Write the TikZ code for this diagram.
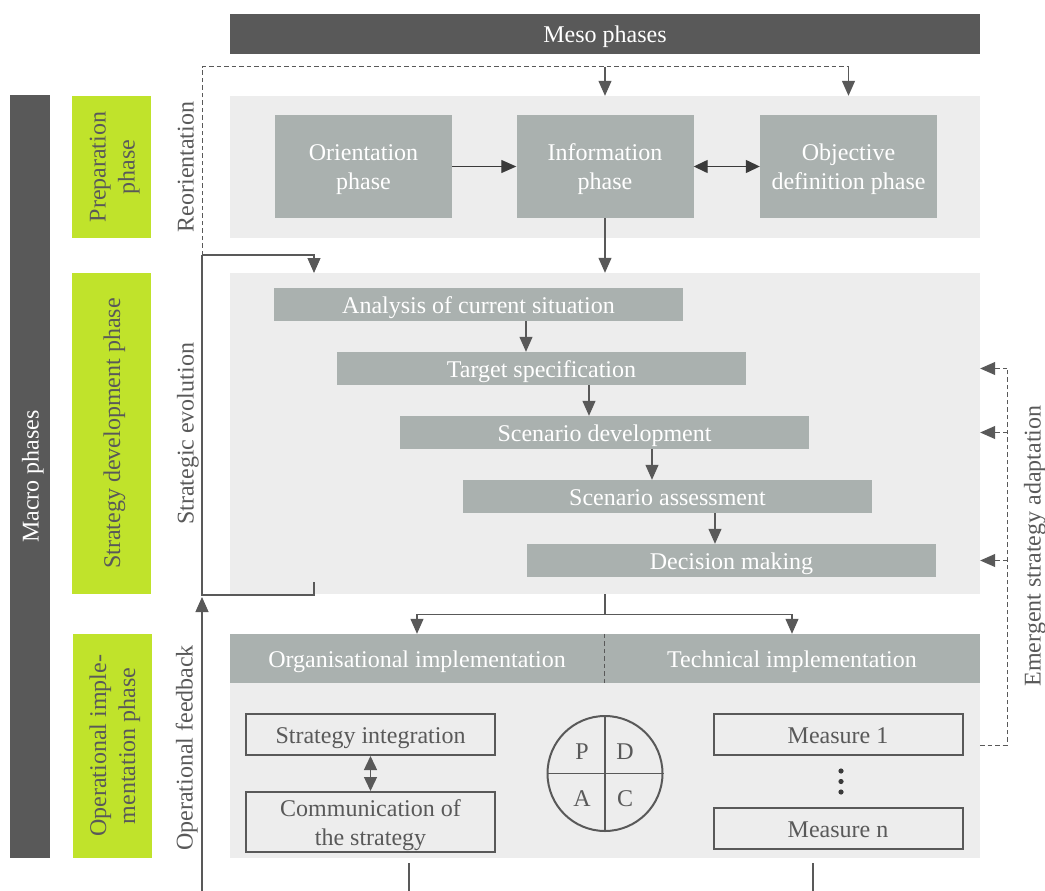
\documentclass[tikz,border=0pt]{standalone}
\usepackage{fontspec}
\setmainfont{Liberation Serif}
\usetikzlibrary{arrows.meta}
\definecolor{darkgrey}{HTML}{595959}
\definecolor{blackgrey}{HTML}{3A3A3A}
\definecolor{boxgrey}{HTML}{AAB1AF}
\definecolor{panelgrey}{HTML}{EDEDED}
\definecolor{lime}{HTML}{C0E32B}
\begin{document}
\begin{tikzpicture}[x = 1pt, y = -1pt,
	every node/.style = {font = \fontsize{24}{29}\selectfont, inner sep = 0pt, text height = 17pt, text depth = 0pt},
	twolines/.style = {align = center, text height = 46pt},
	line/.style = {draw = darkgrey, line width = 1.2pt},
	arr/.style = {line, -{Triangle[length = 15pt, width = 13pt]}},
	dblarr/.style = {draw = blackgrey, line width = 1.4pt, {Triangle[length = 14pt, width = 13pt]}-{Triangle[length = 14pt, width = 13pt]}},
	dashline/.style = {line, line width = 1pt, dash pattern = on 4.5pt off 3pt},
	dasharr/.style = {arr, line width = 1pt, dash pattern = on 4.5pt off 3pt},
	bar/.style = {fill = darkgrey, text = white},
	macro/.style = {fill = lime, text = darkgrey, rotate = 90, align = center, minimum height = 79pt},
	side/.style = {text = darkgrey, rotate = 90},
	panel/.style = {fill = panelgrey, minimum width = 750pt},
	phase/.style = {fill = boxgrey, text = white, twolines, minimum width = 177pt, minimum height = 103pt},
	stage/.style = {fill = boxgrey, text = white, minimum width = 409pt, minimum height = 33pt},
	frame/.style = {draw = darkgrey, line width = 2pt, fill = panelgrey, text = darkgrey, align = center, minimum width = 249pt}]
	\useasboundingbox (0, 0) rectangle (1045, 891);
	% meso and macro bars
	\node[bar, minimum width = 750pt, minimum height = 40pt] (meso) at (605, 34) {Meso phases};
	\node[bar, rotate = 90, minimum width = 763pt, minimum height = 40pt] (macro) at (30, 476.5) {Macro phases};
	% macro phases
	\node[macro, twolines, minimum width = 142pt] (prepphase) at (111.5, 167) {Preparation\\phase};
	\node[macro, minimum width = 321pt] (devphase) at (111.5, 433.5) {Strategy development phase};
	\node[macro, twolines, minimum width = 224pt] (opphase) at (112, 746) {Operational imple-\\mentation phase};
	% side labels
	\node[side] (reolabel) at (185, 167) {Reorientation};
	\node[side] (evolabel) at (185, 434) {Strategic evolution};
	\node[side] (fblabel)  at (184, 748) {Operational feedback};
	\node[side] (emlabel)  at (1032, 546) {Emergent strategy adaptation};
	% panels
	\node[panel, minimum height = 142pt] (prep)  at (605, 167) {};
	\node[panel, minimum height = 321pt] (strat) at (605, 433.5) {};
	\node[panel, minimum height = 175pt] (impl)  at (605, 770.5) {};
	\node[fill = boxgrey, text = white, minimum width = 374pt, minimum height = 49pt] (org)  at (417, 658.5) {Organisational implementation};
	\node[fill = boxgrey, text = white, minimum width = 376pt, minimum height = 49pt] (tech) at (792, 658.5) {Technical implementation};
	\draw[dashline] (org.north east) -- (org.south east);
	% preparation
	\node[phase] (orient) at (363.5, 166.5) {Orientation\\phase};
	\node[phase] (info)   at (605, 166.5)   {Information\\phase};
	\node[phase] (obj)    at (848.5, 166.5) {Objective\\definition phase};
	\draw[arr, draw = blackgrey] (orient) -- (info);
	\draw[dblarr] (info) -- (obj);
	% strategy development
	\node[stage] (ana) at (478.5, 304.5) {Analysis of current situation};
	\node[stage] (tar) at (541.5, 368.5) {Target specification};
	\node[stage] (dev) at (604.5, 432.5) {Scenario development};
	\node[stage] (ass) at (667.5, 496.5) {Scenario assessment};
	\node[stage] (dec) at (731.5, 560.5) {Decision making};
	\foreach \a/\b in {ana/tar, tar/dev, dev/ass, ass/dec}
		\draw[arr] ([xshift = 47.5pt]\a.south) -- ([xshift = 47.5pt]\a.south |- \b.north);
	\draw[arr] (info) -- (info |- strat.north);
	% implementation
	\node[frame, minimum height = 41pt] (integ) at (370.5, 734.5) {Strategy integration};
	\node[frame, twolines, minimum height = 60pt] (comm) at (370.5, 822) {Communication of\\the strategy};
	\draw[dblarr, draw = darkgrey] (integ) -- (comm);
	\node[frame, minimum height = 41pt] (meas1) at (838, 734.5) {Measure 1};
	\node[frame, minimum height = 41pt] (measn) at (838, 828.5) {Measure n};
	\foreach \y in {771, 781.5, 792}
		\fill[blackgrey] (841, \y) circle (2.6);
	% pdca
	\node[circle, draw = darkgrey, line width = 2pt, minimum size = 115pt] (pdca) at (605, 773.5) {};
	\draw[line] (pdca.north) -- (pdca.south);
	\draw[line] (pdca.west) -- (pdca.east);
	\node[text = darkgrey] at (582, 751) {P};
	\node[text = darkgrey] at (625, 751) {D};
	\node[text = darkgrey] at (582, 798) {A};
	\node[text = darkgrey] at (625, 798) {C};
	% split into implementation
	\draw[line] (strat.south) -- ++(0, 20) coordinate (split);
	\draw[arr] (split) -| (org.north);
	\draw[arr] (split) -| (tech.north);
	% reorientation loop
	\coordinate (evo) at (202, 255);
	\coordinate (reo) at (202, 67);
	\draw[dashline] (evo) -- (reo) -- (obj |- reo);
	\draw[arr] (info |- reo) -- (info |- prep.north);
	\draw[arr] (obj |- reo) -- (obj |- prep.north);
	% strategic evolution loop
	\draw[line] (314, 582) -- (314, 595) -| (evo);
	\draw[arr] (evo) -| (314, 273);
	% operational feedback
	\draw[arr] (202, 891) -- (202, 597);
	\draw[line] (409, 863) -- (409, 891);
	\draw[line] (813, 863) -- (813, 891);
	% emergent strategy adaptation
	\coordinate (em) at (1007, 745);
	\draw[dashline] (impl.east |- em) -- (em) -- (1007, 368.5);
	\draw[dasharr] (1007, 368.5) -- (strat.east |- tar);
	\draw[dasharr] (1007, 432.5) -- (strat.east |- dev);
	\draw[dasharr] (1007, 560.5) -- (strat.east |- dec);
\end{tikzpicture}
\end{document}
